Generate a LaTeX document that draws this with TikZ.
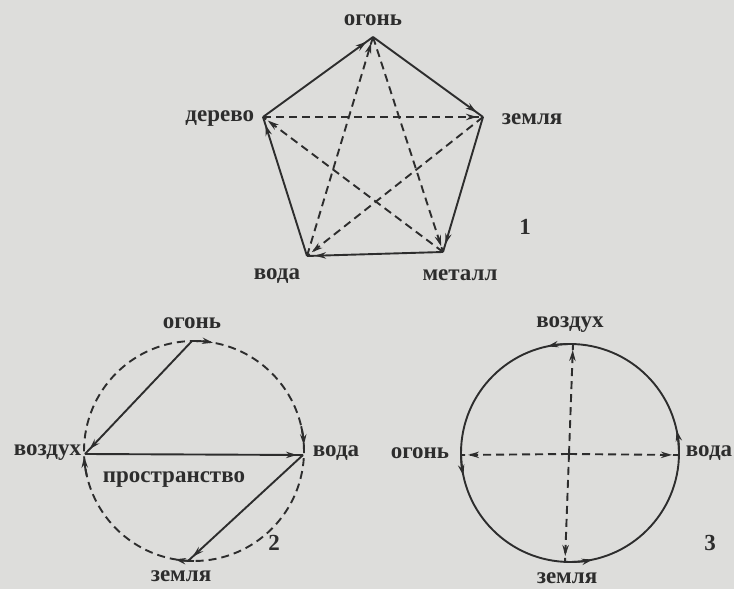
\documentclass[tikz,border=0pt]{standalone}
\usepackage{fontspec}
\setmainfont{Liberation Serif}
\usetikzlibrary{arrows.meta,decorations.markings}

\definecolor{paper}{RGB}{221,221,219}
\definecolor{ink}{RGB}{45,45,45}

\begin{document}
\begin{tikzpicture}[x=0.5pt,y=0.5pt,line width=0.95pt,draw=ink,
  lbl/.style={font=\fontsize{11.5}{13}\selectfont\bfseries,text=ink,inner sep=1pt},
  tip/.style={postaction={decorate},decoration={markings,
    mark=at position #1 with {\arrow{Stealth[length=5.5pt,width=3.2pt]}}}},
  tip/.default=-3pt,
  arctip/.style={-{Stealth[length=5.5pt,width=3.2pt]}},
  dsh/.style={dash pattern=on 4pt off 2.5pt}]
\fill[paper] (0,0) rectangle (734,589);
\useasboundingbox (0,0) rectangle (734,589);

% 1: pentagon
\coordinate (fire1)  at (373,552);
\coordinate (earth1) at (483,472);
\coordinate (metal1) at (443,337);
\coordinate (water1) at (307,333);
\coordinate (wood1)  at (263,472);
\node[lbl] (lfire1) at (373,569) {огонь};
\node[lbl,anchor=east] (lwood1) at (257,470) {дерево};
\node[lbl,anchor=west] (learth1) at (499,470) {земля};
\node[lbl] (lwater1) at (277,313) {вода};
\node[lbl] (lmetal1) at (460,314) {металл};
\node[lbl] (n1) at (525,362) {1};
\foreach \a/\b in {wood1/fire1,fire1/earth1,earth1/metal1,metal1/water1,water1/wood1} {
   \draw[tip=-4pt] (\a) -- (\b);
}
\foreach \a/\b in {wood1/earth1,earth1/water1,water1/fire1,fire1/metal1,metal1/wood1} {
   \draw[dsh,tip] (\a) -- (\b);
}

% 2: dashed circle
\coordinate (c2) at (194,138);
\draw[dsh] (c2) circle[radius=110];
\coordinate (fire2)  at (192,248);
\coordinate (air2)   at (85,135);
\coordinate (water2) at (303,134);
\coordinate (earth2) at (188,28);
\node[lbl] (lfire2) at (192,266) {огонь};
\node[lbl,anchor=east] (lair2) at (84,136) {воздух};
\node[lbl,anchor=west] (lwater2) at (310,136) {вода};
\node[lbl] (lspace2) at (174,109) {пространство};
\node[lbl] (learth2) at (181,13) {земля};
\node[lbl] (n2) at (274,46) {2};
\draw[tip] (fire2) -- (air2);
\draw[tip] (air2) -- (water2);
\draw[tip] (water2) -- (earth2);
\foreach \s/\e in {90/80,13/3,270/260,193/183} {
   \draw[arctip] (c2) ++(\s:110) arc[start angle=\s,end angle=\e,radius=110];
}

% 3: solid circle
\coordinate (c3) at (569,135);
\draw (570,136) circle[radius=109];
\coordinate (air3)   at (573,245);
\coordinate (fire3)  at (462,134);
\coordinate (water3) at (678,134);
\coordinate (earth3) at (565,27);
\node[lbl] (lair3) at (570,264) {воздух};
\node[lbl,anchor=east] (lfire3) at (452,136) {огонь};
\node[lbl,anchor=west] (lwater3) at (683,136) {вода};
\node[lbl] (learth3) at (567,11) {земля};
\node[lbl] (n3) at (710,46) {3};
\foreach \p in {air3,fire3,water3,earth3} {
   \draw[dsh,tip] (c3) -- (\p);
}
\foreach \s/\e in {92/102,182/192,272/282,2/12} {
   \draw[arctip] (570,136) ++(\s:109) arc[start angle=\s,end angle=\e,radius=109];
}
\end{tikzpicture}
\end{document}
